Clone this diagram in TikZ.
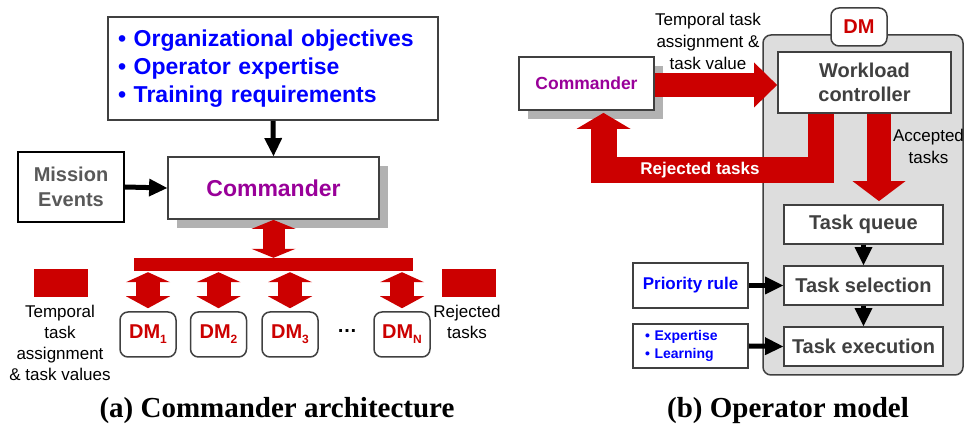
\documentclass[tikz,border=0pt]{standalone}
\usepackage{fontspec}
\setmainfont{Liberation Sans}
\newfontfamily\capfont{Liberation Serif}
\usetikzlibrary{arrows.meta,shadows,calc}
\definecolor{rred}{HTML}{CC0000}
\definecolor{bblue}{HTML}{0000FF}
\definecolor{ppurple}{HTML}{990099}
\definecolor{dgray}{HTML}{404040}
\definecolor{mgray}{HTML}{595959}
\definecolor{shgray}{HTML}{B2B2B2}
\definecolor{cgray}{HTML}{DDDDDD}
\newcommand{\fsz}[2]{\fontsize{#1pt}{#2pt}\selectfont}
\tikzset{
  box/.style={draw=dgray, line width=1.8pt, fill=white, inner sep=0pt, align=center},
  shadowed/.style={general shadow={fill=shgray, shadow xshift=9pt, shadow yshift=-9pt}},
  dmbox/.style={draw=dgray, line width=1.5pt, fill=white, rounded corners=8pt, inner sep=0pt,
    minimum width=56pt, minimum height=45pt, text=rred, font={\bfseries\fsz{20}{24}}},
  taskbox/.style={box, minimum width=159pt, minimum height=39pt, text=dgray, font={\bfseries\fsz{20}{24}}},
  blkarrow/.style={draw=black, line width=5pt, -{Triangle[width=18pt,length=18pt,line width=0pt]}},
  redfill/.style={fill=rred, draw=none, inner sep=0pt},
  plain/.style={align=center, inner sep=0pt, font={\fsz{17}{21}}}
}
\newcommand{\dmsub}[1]{DM\raisebox{-5pt}{\fsz{12}{12}#1}}
\begin{document}
\begin{tikzpicture}[x=1pt,y=-1pt]
\useasboundingbox (0,0) rectangle (964,427);

% ---------- (a) Commander architecture ----------
\node[box, text width=310pt, inner xsep=10pt, minimum height=103pt, align=left, text=bblue,
  font={\bfseries\fsz{23}{28}}] (req) at (273,68.5)
  {\textbullet{} Organizational objectives\\ \textbullet{} Operator expertise\\ \textbullet{} Training requirements};
\node[box, shadowed, minimum width=211pt, minimum height=62pt, text=ppurple,
  font={\bfseries\fsz{23}{28}}] (cmdL) at (273.5,188) {Commander};
\node[box, draw=black, minimum width=106pt, minimum height=70pt, text=mgray,
  font={\bfseries\fsz{20}{25}}] (mis) at (71,187) {Mission\\Events};
\draw[blkarrow] (req.south) -- (cmdL.north);
\draw[blkarrow] (mis.east) -- (cmdL.west);

\node[redfill, minimum width=279pt, minimum height=13pt] (bar) at (273.5,264.5) {};
\draw[draw=rred, line width=22pt,
  {Triangle[width=44pt,length=9pt,line width=0pt]}-{Triangle[width=44pt,length=9pt,line width=0pt]}]
  (cmdL.south) -- (bar.north);

\node[dmbox] (dm1) at (148,334.5) {\dmsub{1}};
\node[dmbox] (dm2) at (218.5,334.5) {\dmsub{2}};
\node[dmbox] (dm3) at (290,334.5) {\dmsub{3}};
\node[dmbox] (dmN) at (402,334.5) {\dmsub{N}};
\node[inner sep=0pt, font={\bfseries\fsz{20}{24}}] (dots) at (347,331) {…};
\foreach \d in {dm1,dm2,dm3,dmN}{
  \draw[draw=rred, line width=24pt,
    {Triangle[width=44pt,length=10pt,line width=0pt]}-{Triangle[width=44pt,length=12pt,line width=0pt]}]
    ($(bar.south -| \d.north)+(0,1)$) -- ($(\d.north)+(0,-3)$);
}

\node[redfill, minimum width=54pt, minimum height=28pt] (legA) at (61,283) {};
\node[redfill, minimum width=54pt, minimum height=28pt] (legB) at (469,283) {};
\node[plain] (legAt) at (60,343) {Temporal\\task\\assignment\\\& task values};
\node[plain] (legBt) at (467,321.5) {Rejected\\tasks};

\node[inner sep=0pt, font={\capfont\bfseries\fsz{29}{33}}] (capA) at (277,411) {(a) Commander architecture};

% ---------- (b) Operator model ----------
\node[draw=dgray, line width=1.5pt, fill=cgray, rounded corners=8pt,
  minimum width=200pt, minimum height=340pt, inner sep=0pt] (dmc) at (863,205) {};
\node[draw=dgray, line width=1.5pt, fill=white, rounded corners=8pt, inner sep=0pt,
  minimum width=56pt, minimum height=38pt, text=rred, font={\bfseries\fsz{20}{24}}] (dmlab) at (859,27) {DM};

\node[box, shadowed, minimum width=135pt, minimum height=53pt, text=ppurple,
  font={\bfseries\fsz{17.5}{21}}] (cmdR) at (586.5,83.5) {Commander};
\node[box, minimum width=173pt, minimum height=61pt, text=dgray,
  font={\bfseries\fsz{20}{24}}] (wc) at (864.5,82.5) {Workload\\controller};
\node[taskbox] (tq) at (863.5,224.5) {Task queue};
\node[taskbox] (ts) at (863.5,285.5) {Task selection};
\node[taskbox] (te) at (863.5,346.5) {Task execution};
\node[box, minimum width=115pt, minimum height=45pt, text=bblue,
  font={\bfseries\fsz{17}{21}}] (pr) at (690.5,285.5) {Priority rule};
\node[box, text width=91pt, inner xsep=12pt, minimum height=44pt, align=left, text=bblue,
  font={\bfseries\fsz{14}{18}}] (ex) at (690.5,346) {\textbullet{} Expertise\\ \textbullet{} Learning};

\coordinate (ta) at ($(cmdR.east)+(0,1.5)$);
\draw[draw=rred, line width=24pt, -{Triangle[width=45pt,length=23pt,line width=0pt]}]
  (ta) -- (ta -| wc.west);
\coordinate (rjs) at ($(wc.south)+(-44,0)$);
\coordinate (rj1) at (820.5,170);
\coordinate (rj2) at (603.5,170);
\draw[draw=rred, line width=26pt, line join=miter, -{Triangle[width=54pt,length=16pt,line width=0pt]}]
  (rjs) -- (rj1) -- (rj2) -- ($(rj2 |- cmdR.south)+(0,2)$);
\node[text=white, inner sep=0pt, font={\bfseries\fsz{17}{21}}] (rjt) at (700,170) {Rejected tasks};
\coordinate (acs) at ($(wc.south)+(14.5,0)$);
\draw[draw=rred, line width=24pt, -{Triangle[width=53pt,length=20pt,line width=0pt]}]
  (acs) -- ($(acs |- tq.north)+(0,-3)$);

\node[plain, font={\fsz{17}{22}}] (tat) at (708,41) {Temporal task\\assignment \&\\task value};
\node[plain, font={\fsz{17}{22}}] (act) at (928.5,146) {Accepted\\tasks};

\draw[blkarrow] (tq.south) -- (ts.north);
\draw[blkarrow] (ts.south) -- (te.north);
\draw[blkarrow] (pr.east) -- (ts.west);
\draw[blkarrow] (ex.east) -- (te.west);

\node[inner sep=0pt, font={\capfont\bfseries\fsz{29}{33}}] (capB) at (788,411) {(b) Operator model};
\end{tikzpicture}
\end{document}
